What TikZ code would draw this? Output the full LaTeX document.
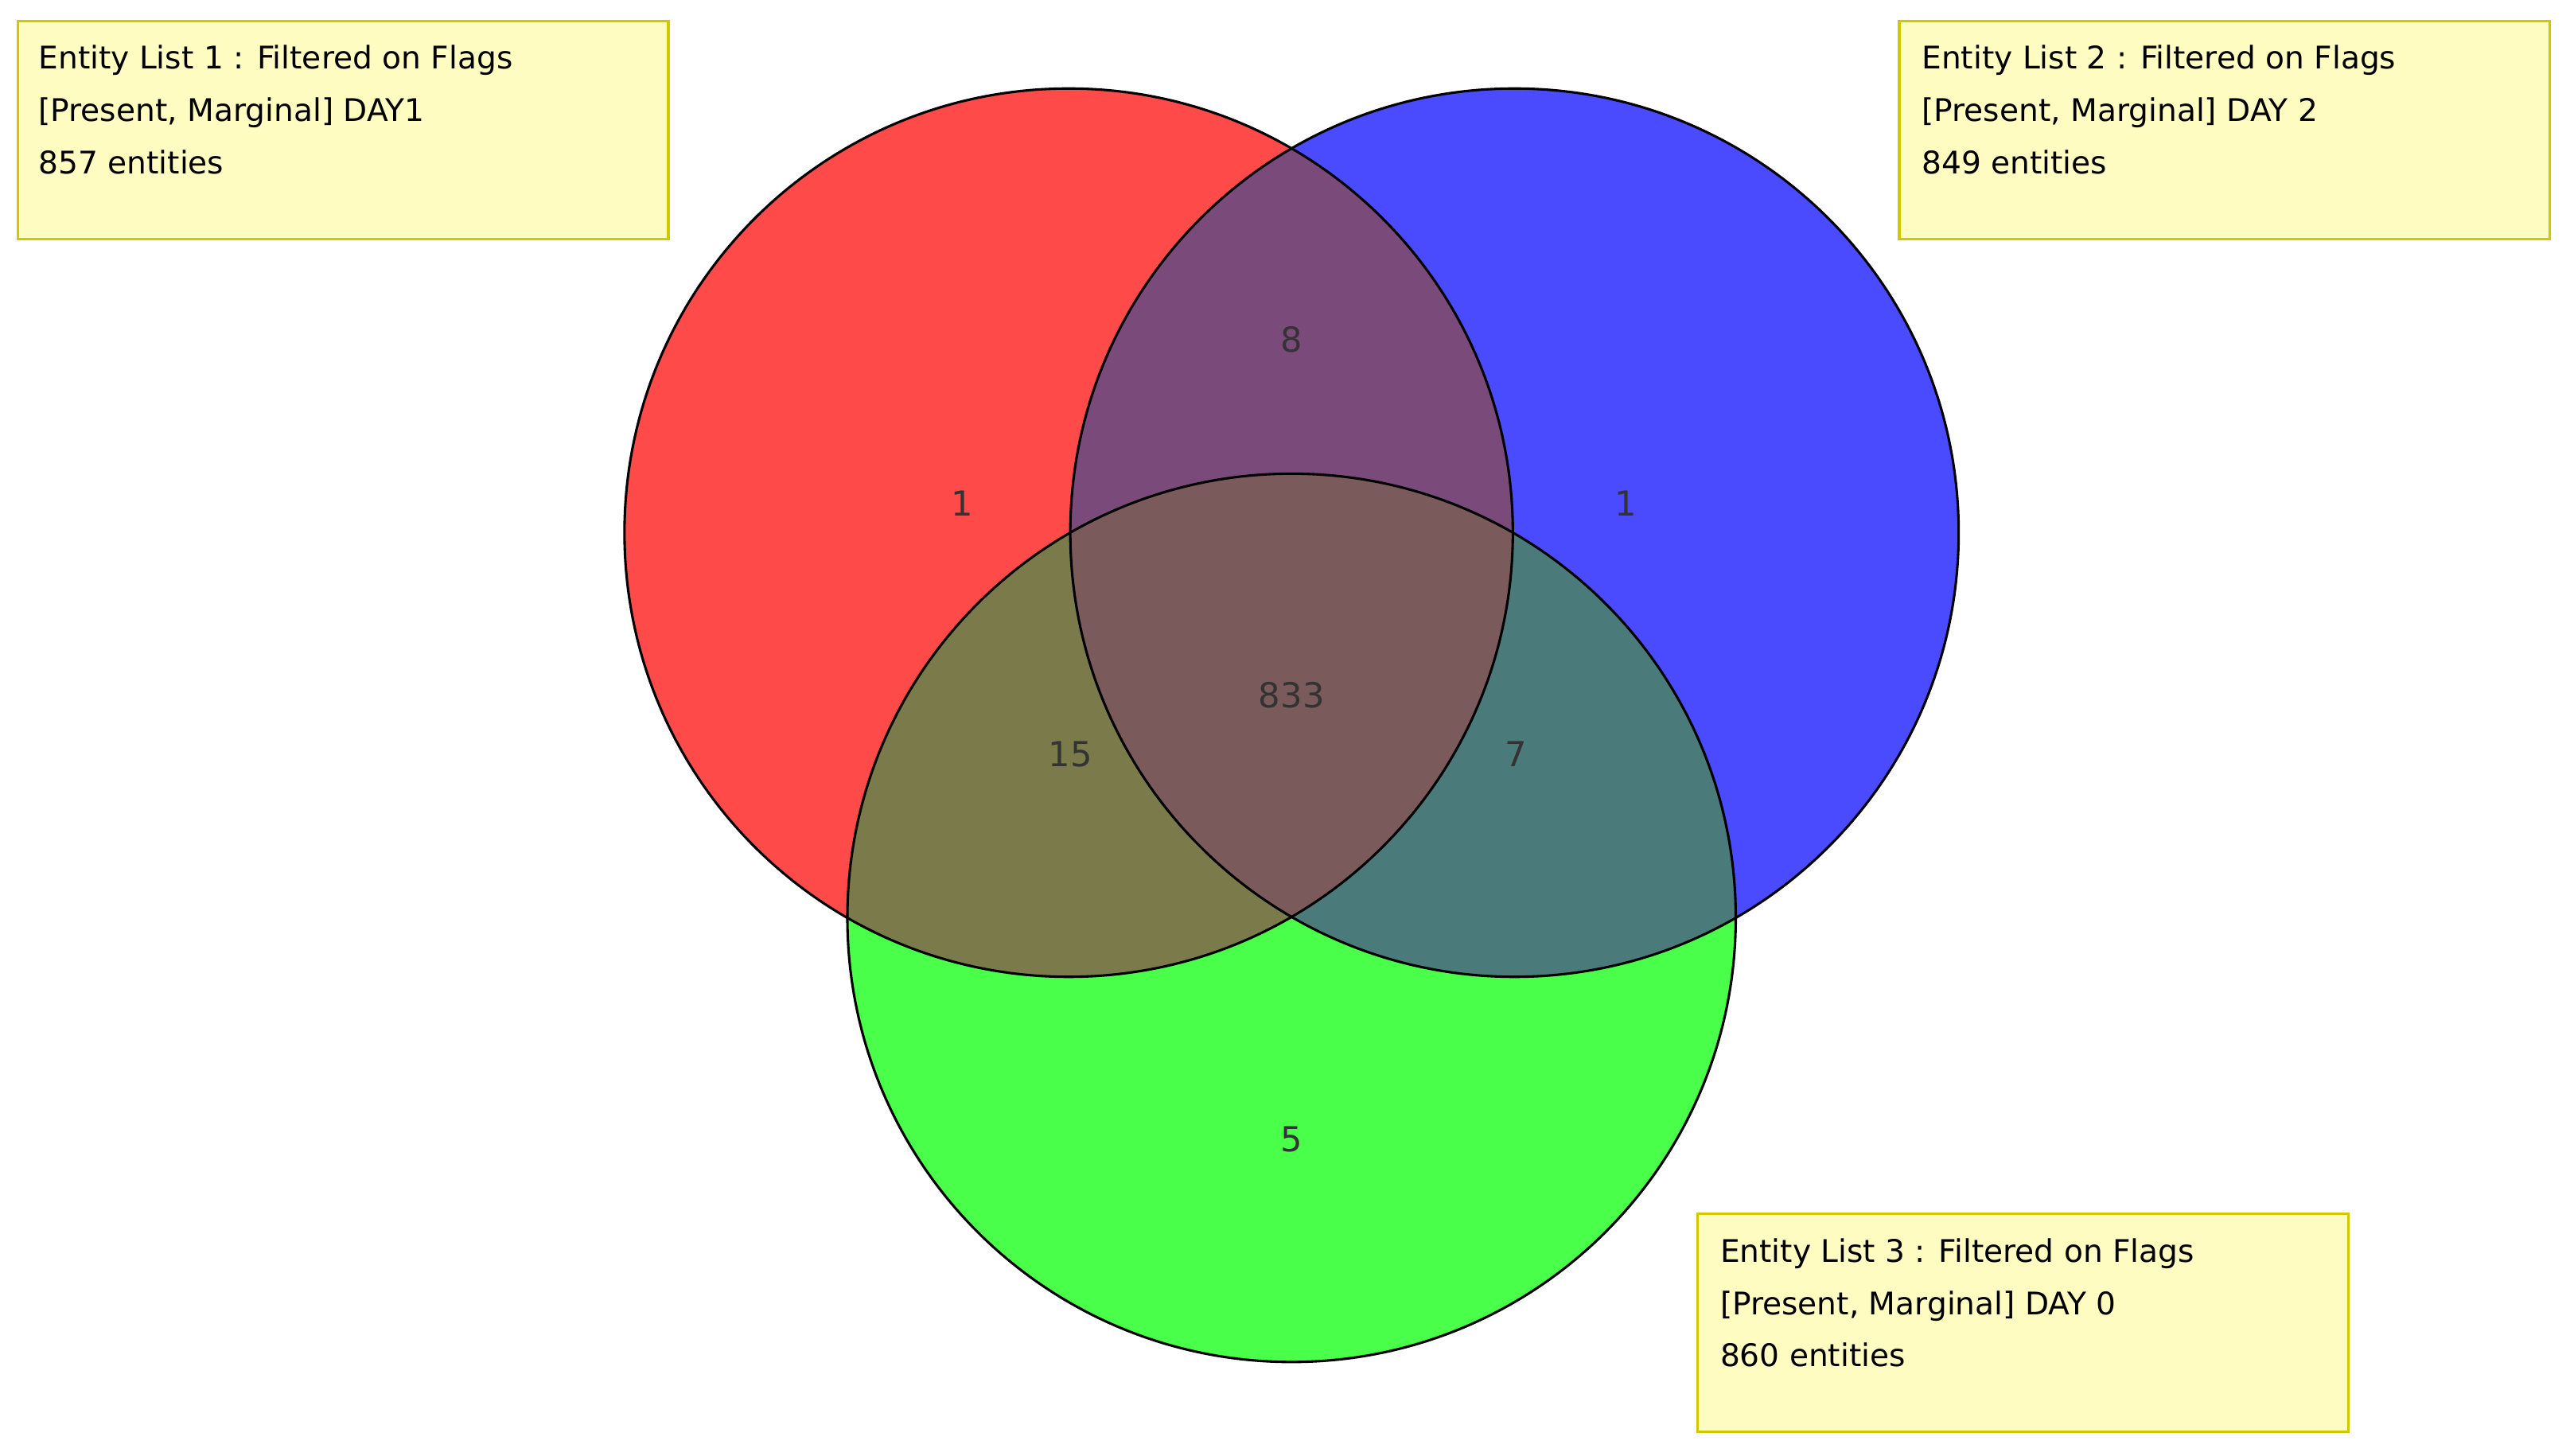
\documentclass[tikz,border=0pt]{standalone}
\usepackage{fontspec}
\setmainfont{DejaVu Sans}
\begin{document}
\begin{tikzpicture}[x=1pt,y=-1pt,
  lbl/.style={draw=yellow!60!olive,line width=1.5pt,fill=yellow!20!white!95!yellow,minimum width=397pt,minimum height=133pt,anchor=north west,inner sep=0pt},
  ltxt/.style={anchor=north west,align=left,font=\fontsize{19}{32}\selectfont},
  num/.style={font=\fontsize{21}{24}\selectfont,text=black!80}]
\useasboundingbox (0,0) rectangle (1568,888);
\def\R{(652,325) circle (271)}
\def\B{(924,325) circle (271)}
\def\G{(788,560) circle (271)}
\fill[color={rgb,255:red,255;green,74;blue,74}] \R;
\fill[color={rgb,255:red,74;green,74;blue,255}] \B;
\fill[color={rgb,255:red,74;green,255;blue,74}] \G;
\begin{scope}\clip \R; \fill[color={rgb,255:red,122;green,74;blue,122}] \B;
 \fill[color={rgb,255:red,122;green,122;blue,74}] \G; \end{scope}
\begin{scope}\clip \B; \fill[color={rgb,255:red,74;green,122;blue,122}] \G; \end{scope}
\begin{scope}\clip \R; \clip \B; \fill[color={rgb,255:red,122;green,90;blue,90}] \G; \end{scope}
\draw[line width=1.5pt] \R; \draw[line width=1.5pt] \B; \draw[line width=1.5pt] \G;
\node[num] (n1) at (587,307) {1};
\node[num] (n2) at (992,307) {1};
\node[num] (n8) at (788,207) {8};
\node[num] (n833) at (788,424) {833};
\node[num] (n15) at (653,460) {15};
\node[num] (n7) at (925,460) {7};
\node[num] (n5) at (788,695) {5};
\node[lbl] (b1) at (10,12) {};
\node[ltxt] (t1) at (20,24) {Entity List 1 : Filtered on Flags\\{}{[Present, Marginal] DAY1}\\857 entities};
\node[lbl] (b2) at (1158,12) {};
\node[ltxt] (t2) at (1169,24) {Entity List 2 : Filtered on Flags\\{}{[Present, Marginal] DAY 2}\\849 entities};
\node[lbl] (b3) at (1035,740) {};
\node[ltxt] (t3) at (1046,752) {Entity List 3 : Filtered on Flags\\{}{[Present, Marginal] DAY 0}\\860 entities};
\end{tikzpicture}
\end{document}
